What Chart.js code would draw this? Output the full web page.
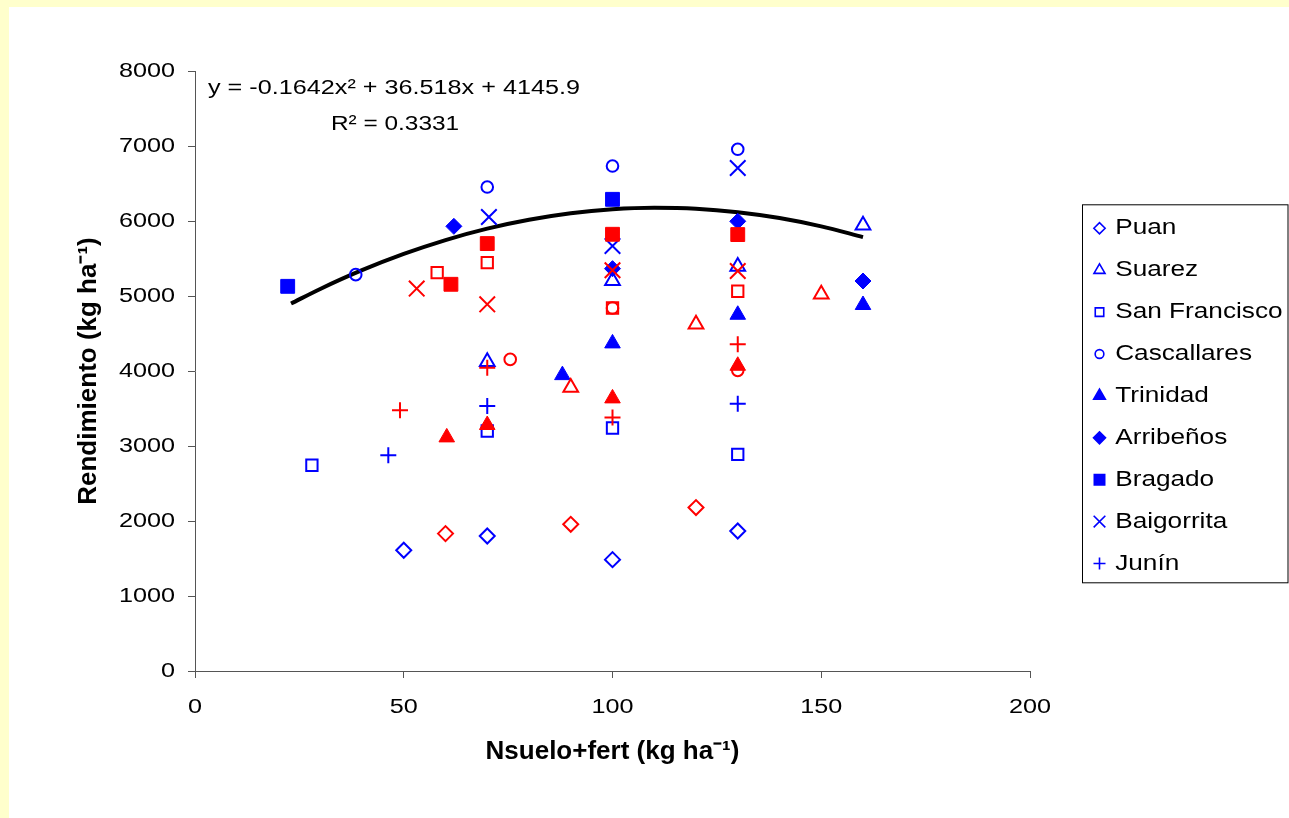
<!DOCTYPE html>
<html>
<head>
<meta charset="utf-8">
<script src="https://cdn.jsdelivr.net/npm/chart.js@4.4.1/dist/chart.umd.min.js"></script>
<style>
html,body{margin:0;padding:0;background:#FFFFCC;width:1289px;height:818px;overflow:hidden}
#panel{position:absolute;left:9px;top:7px;width:1280px;height:811px;background:#ffffff}
#c{position:absolute;left:0;top:0}
</style>
</head>
<body>
<div id="panel"></div>
<canvas id="c" width="1289" height="818"></canvas>
<script>
// ---------------- DATA ----------------
const sites = ["Puan","Suarez","San Francisco","Cascallares","Trinidad","Arribeños","Bragado","Baigorrita","Junín"];
const xTicks = [0, 50, 100, 150, 200];
const yTicks = [0, 1000, 2000, 3000, 4000, 5000, 6000, 7000, 8000];

// blue series (shown in legend)  [N suelo+fert, rendimiento]
const puanBlue      = [[50,1610],[70,1800],[100,1485],[130,1867]];
const suarezBlue    = [[70,4125],[100,5205],[130,5395],[160,5945]];
const sanFranBlue   = [[28,2743],[70,3200],[100,3240],[130,2889]];
const cascalBlue    = [[38.5,5285],[70,6453],[100,6733],[130,6956]];
const trinidadBlue  = [[88,3945],[100,4368],[130,4750],[160,4880]];
const arribenosBlue = [[62,5929],[100,5365],[130,5996],[160,5200]];
const bragadoBlue   = [[22.2,5129],[100,6289]];
const baigorBlue    = [[70.4,6053],[100,5667],[130,6707]];
const juninBlue     = [[46.3,2876],[70,3533],[130,3565]];

// red series (second set, not in legend)
const puanRed       = [[60,1832],[90,1956],[120,2179]];
const suarezRed     = [[90,3780],[120,4625],[150,5025]];
const sanFranRed    = [[58,5312],[70,5445],[100,4840],[130,5063]];
const cascalRed     = [[75.5,4155],[100,4840],[130,4009]];
const trinidadRed   = [[60.3,3115],[70,3280],[100,3635],[130,4070]];
const arribenosRed  = [];
const bragadoRed    = [[61.3,5156],[70,5699],[100,5823],[130,5819]];
const baigorRed     = [[53.1,5099],[70,4889],[100,5343],[130,5333]];
const juninRed      = [[49.1,3476],[70,4045],[100,3379],[130,4356]];

// polynomial trend line
const trendN     = [23, 30, 40, 50, 60, 70, 80, 90, 100, 110, 120, 130, 140, 150, 160];
const trendYield = [4899, 5094, 5344, 5561, 5746, 5898, 6016, 6103, 6156, 6176, 6164, 6118, 6040, 5929, 5785];

const eqLine1 = "y = -0.1642x² + 36.518x + 4145.9";
const eqLine2 = "R² = 0.3331";

const blueSets = [puanBlue, suarezBlue, sanFranBlue, cascalBlue, trinidadBlue, arribenosBlue, bragadoBlue, baigorBlue, juninBlue];
const redSets  = [puanRed, suarezRed, sanFranRed, cascalRed, trinidadRed, arribenosRed, bragadoRed, baigorRed, juninRed];

// ---------------- STYLE ----------------
const FONT = "'Liberation Sans', Arial, sans-serif";
const BLUE = '#0000FF', RED = '#FF0000';
const styles = ['rectRot','triangle','rect','circle','triangle','rectRot','rect','crossRot','cross'];
const fills  = [false, false, false, false, true, true, true, false, false];
const radii  = [7.5, 8.5, 8, 5.8, 9, 8, 9.8, 11, 8];

// horizontal text stretch (reference text is wider than normal Arial)
const canvas = document.getElementById('c');
const ctx0 = canvas.getContext('2d');
const origFill = ctx0.fillText.bind(ctx0);
ctx0.fillText = function(t, x, y, mw) {
  const sx = (this.__sx !== undefined) ? this.__sx : 1.26;
  if (/bold/.test(this.font) || sx === 1) {
    return (mw === undefined) ? origFill(t, x, y) : origFill(t, x, y, mw);
  }
  this.save();
  this.translate(x, y);
  this.scale(sx, 1);
  origFill(t, 0, 0);
  this.restore();
};

function mkSet(label, pts, color, i, isRed) {
  const filled = fills[i];
  const isLine = styles[i] === 'cross' || styles[i] === 'crossRot';
  return {
    label: label,
    isRed: isRed,
    data: pts.map(p => ({x: p[0], y: p[1]})),
    showLine: false,
    pointStyle: styles[i],
    pointRadius: radii[i],
    pointHoverRadius: radii[i],
    pointBackgroundColor: filled ? color : 'rgba(0,0,0,0)',
    pointBorderColor: color,
    pointBorderWidth: (filled && !isLine) ? 1 : 2,
    order: isRed ? 1 : 2
  };
}

const datasets = [];
sites.forEach((s, i) => datasets.push(mkSet(s, blueSets[i], BLUE, i, false)));
sites.forEach((s, i) => datasets.push(mkSet(s, redSets[i], RED, i, true)));
datasets.push({
  label: 'trend',
  isTrend: true,
  data: trendN.map((n, i) => ({x: n, y: trendYield[i]})),
  showLine: true,
  borderColor: '#000',
  borderWidth: 4,
  pointRadius: 0,
  pointHoverRadius: 0,
  cubicInterpolationMode: 'monotone',
  fill: false,
  order: 3
});

function drawMarker(ctx, style, x, y, r, color, filled, lw) {
  ctx.save();
  ctx.strokeStyle = color; ctx.fillStyle = color; ctx.lineWidth = lw;
  ctx.beginPath();
  switch (style) {
    case 'circle': ctx.arc(x, y, r, 0, Math.PI * 2); break;
    case 'rect': { const s = r * Math.SQRT1_2; ctx.rect(x - s, y - s, 2 * s, 2 * s); break; }
    case 'rectRot': ctx.moveTo(x - r, y); ctx.lineTo(x, y - r); ctx.lineTo(x + r, y); ctx.lineTo(x, y + r); ctx.closePath(); break;
    case 'triangle': ctx.moveTo(x, y - r); ctx.lineTo(x + r * 0.866, y + r / 2); ctx.lineTo(x - r * 0.866, y + r / 2); ctx.closePath(); break;
    case 'cross': ctx.moveTo(x - r, y); ctx.lineTo(x + r, y); ctx.moveTo(x, y - r); ctx.lineTo(x, y + r); break;
    case 'crossRot': { const o = r * Math.SQRT1_2; ctx.moveTo(x - o, y - o); ctx.lineTo(x + o, y + o); ctx.moveTo(x - o, y + o); ctx.lineTo(x + o, y - o); break; }
  }
  if (filled && style !== 'cross' && style !== 'crossRot') ctx.fill();
  ctx.stroke();
  ctx.restore();
}

const equationPlugin = {
  id: 'equation',
  afterDatasetsDraw(chart) {
    const {ctx, chartArea: a} = chart;
    ctx.save();
    ctx.font = '20px ' + FONT;
    ctx.fillStyle = '#000';
    ctx.textAlign = 'center';
    ctx.textBaseline = 'alphabetic';
    ctx.fillText(eqLine1, a.left + 199, a.top + 22.6);
    ctx.__sx = 1.22;
    ctx.fillText(eqLine2, a.left + 200, a.top + 59.3);
    delete ctx.__sx;
    ctx.restore();
  }
};

const legendPlugin = {
  id: 'boxLegend',
  afterDraw(chart) {
    const ctx = chart.ctx;
    const a = chart.chartArea;
    const boxL = a.right + 52.5, boxT = a.top + 133.8, boxW = 205.5, boxH = 378;
    ctx.save();
    ctx.strokeStyle = '#000'; ctx.lineWidth = 1;
    ctx.strokeRect(boxL, boxT, boxW, boxH);
    ctx.font = '22px ' + FONT;
    ctx.fillStyle = '#000';
    ctx.textAlign = 'left';
    ctx.textBaseline = 'alphabetic';
    chart.data.datasets.forEach((d, idx) => {
      if (d.isRed || d.isTrend) return;
      const i = idx;
      const base = boxT + 29.5 + 41.9 * i;
      drawMarker(ctx, styles[i], boxL + 17, base - 6, radii[i] * 0.75, BLUE, fills[i], 1.6);
      ctx.__sx = 1.19;
      ctx.fillText(d.label, boxL + 32.7, base);
      delete ctx.__sx;
    });
    ctx.restore();
  }
};

new Chart(ctx0, {
  type: 'scatter',
  data: { datasets: datasets },
  plugins: [equationPlugin, legendPlugin],
  options: {
    responsive: false,
    animation: false,
    events: [],
    layout: { padding: { left: 73, right: 259, top: 71, bottom: 47 } },
    plugins: { legend: { display: false }, tooltip: { enabled: false } },
    scales: {
      x: {
        type: 'linear', min: 0, max: 200,
        afterBuildTicks(s) { s.ticks = xTicks.map(v => ({value: v})); },
        ticks: { color: '#000', font: { family: FONT, size: 20 }, padding: 17, maxRotation: 0,
                 callback: v => String(v) },
        grid: { drawOnChartArea: false, drawTicks: true, tickLength: 7, color: '#555555', lineWidth: 1 },
        border: { display: true, color: '#555555', width: 1 },
        title: { display: true, text: 'Nsuelo+fert (kg ha⁻¹)', color: '#000',
                 font: { family: FONT, size: 26, weight: 'bold' }, padding: { top: 0, bottom: 4 } },
        afterFit(s) { s.height = 100; }
      },
      y: {
        type: 'linear', min: 0, max: 8000,
        afterBuildTicks(s) { s.ticks = yTicks.map(v => ({value: v})); },
        ticks: { color: '#000', font: { family: FONT, size: 20 }, padding: 13,
                 callback: v => String(v) },
        grid: { drawOnChartArea: false, drawTicks: true, tickLength: 7, color: '#555555', lineWidth: 1 },
        border: { display: true, color: '#555555', width: 1 },
        title: { display: true, text: 'Rendimiento (kg ha⁻¹)', color: '#000',
                 font: { family: FONT, size: 26, weight: 'bold' }, padding: { top: 0, bottom: 0 } },
        afterFit(s) { s.width = 122; }
      }
    }
  }
});
</script>
</body>
</html>
